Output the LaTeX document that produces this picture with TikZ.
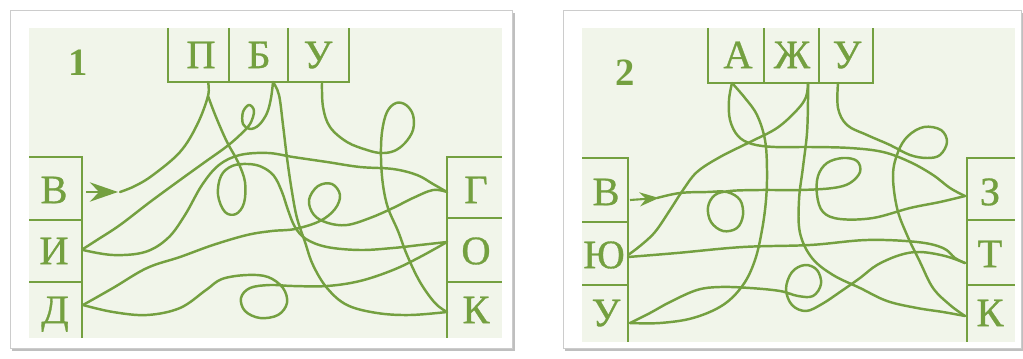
\documentclass[tikz,border=0pt]{standalone}
\usepackage{fontspec}
\setmainfont{Liberation Serif}
\newfontfamily\boxfont[FakeBold=0.8]{Liberation Serif}
\usepackage{xcolor}
\usetikzlibrary{arrows.meta}

\definecolor{mazegreen}{RGB}{116,160,64}
\definecolor{paper}{RGB}{241,245,234}

\begin{document}
\begin{tikzpicture}[
  x=0.02cm, y=-0.02cm,
  >=Stealth,
  frame/.style={fill=white, draw=gray!40, line width=0.5pt},
  shadow/.style={fill=gray!50},
  field/.style={fill=paper},
  boxline/.style={draw=mazegreen, line width=1.4pt},
  letter/.style={text=mazegreen, font=\boxfont\fontsize{23}{26}\selectfont,
    inner sep=0pt, text height=15pt, text depth=0pt},
  number/.style={letter, font=\fontsize{22}{26}\selectfont\bfseries},
  maze/.style={draw=mazegreen, line width=1.4pt, line cap=round, line join=round},
  entry/.style={draw=mazegreen, line width=1.2pt},
]
\useasboundingbox (0,0) rectangle (1023,358);

% ========= Frames =========
\fill[shadow] (12,13) rectangle (515,351);
\filldraw[frame] (10,10) rectangle (512,348);
\fill[field] (29,28) rectangle (502,338);

\fill[shadow] (565,13) rectangle (1023,351);
\filldraw[frame] (563,10) rectangle (1021,348);
\fill[field] (582,28) rectangle (1015,342);

% ========= Panel 1: boxes =========
\draw[boxline] (168,28) -- (168,82) -- (349,82) -- (349,28);
\draw[boxline] (229,28) -- (229,82) (288,28) -- (288,82);
\draw[boxline] (29,157) -- (82,157) -- (82,338);
\draw[boxline] (29,220) -- (82,220) (29,282) -- (82,282);
\draw[boxline] (502,157) -- (447,157) -- (447,338);
\draw[boxline] (447,218) -- (502,218) (447,282) -- (502,282);

\node[number] at (78,62) (num1) {1};
\node[letter] at (201,55) (p1P) {П};
\node[letter] at (259,55) (p1B) {Б};
\node[letter] at (318,55) (p1U) {У};
\node[letter] at (54,190) (p1V) {В};
\node[letter] at (54,251) (p1I) {И};
\node[letter] at (55,310) (p1D) {Д};
\node[letter] at (476,190) (p1G) {Г};
\node[letter] at (476,251) (p1O) {О};
\node[letter] at (476,310) (p1K) {К};

% ========= Panel 1: lines =========
\draw[entry, -{Stealth[length=16pt,width=11pt]}] (86,192) -- (118,192);
% П -> В
\draw[maze] plot[smooth, tension=0.6] coordinates {(208,82) (208,96) (197,125)
  (180,152) (153,175) (135,186) (120,192)};
% П -> О
\draw[maze] plot[smooth, tension=0.6] coordinates {(208,96) (216,117) (227,142)
  (238,162) (245,182) (244,203) (236,214) (225,212) (218,195) (221,176) (232,166)
  (248,164) (262,167) (274,176) (282,192) (288,210) (295,227) (306,239) (327,247)
  (360,250) (393,248) (420,245) (447,242)};
% Б -> И
\draw[maze] plot[smooth, tension=0.6] coordinates {(273,82) (271,98) (267,113)
  (259,125) (250,129) (243,124) (243,112) (249,105) (254,111) (250,124) (240,135)
  (226,147) (205,162) (180,180) (150,202) (120,225) (97,240) (83,249)};
% И -> Г
\draw[maze] plot[smooth, tension=0.6] coordinates {(83,250) (113,255) (145,252)
  (168,238) (185,215) (202,185) (219,165) (240,155) (268,153) (293,157) (327,162)
  (360,167) (393,169) (417,175) (433,184) (447,192)};
% Д -> Г
\draw[maze] plot[smooth, tension=0.6] coordinates {(83,305) (113,288) (147,268)
  (180,257) (213,245) (247,235) (272,231) (295,229) (320,221) (335,209) (340,195)
  (332,184) (318,186) (309,200) (314,215) (328,223) (347,225) (370,218) (393,208)
  (413,198) (433,190) (447,192)};
% Д -> О
\draw[maze] plot[smooth, tension=0.6] coordinates {(83,305) (113,312) (147,315)
  (180,308) (206,290) (222,279) (247,275) (268,277) (283,288) (287,303) (278,315)
  (260,318) (245,311) (241,298) (250,288) (270,285) (293,286) (327,286) (360,281)
  (393,270) (420,257) (447,242)};
% Б -> К
\draw[maze] plot[smooth, tension=0.6] coordinates {(273,82) (279,95) (283,125)
  (287,158) (292,192) (297,218) (305,242) (313,265) (327,288) (347,305) (377,313)
  (410,315) (447,312)};
% У -> К
\draw[maze] plot[smooth, tension=0.6] coordinates {(322,82) (323,107) (330,127)
  (347,142) (367,150) (381,153) (394,151) (405,143) (413,130) (413,115) (406,105)
  (396,103) (387,112) (382,132) (381,158) (383,185) (388,208) (398,231) (407,255)
  (420,282) (435,303) (447,312)};

% ========= Panel 2: boxes =========
\draw[boxline] (708,28) -- (708,83) -- (873,83) -- (873,28);
\draw[boxline] (764,28) -- (764,83) (819,28) -- (819,83);
\draw[boxline] (582,158) -- (628,158) -- (628,342);
\draw[boxline] (582,222) -- (628,222) (582,285) -- (628,285);
\draw[boxline] (1015,158) -- (967,158) -- (967,342);
\draw[boxline] (967,220) -- (1015,220) (967,285) -- (1015,285);

\node[number] at (625,72) (num2) {2};
\node[letter] at (738,55) (p2A) {А};
\node[letter] at (792,55) (p2Zh) {Ж};
\node[letter] at (847,55) (p2U) {У};
\node[letter] at (606,192) (p2V) {В};
\node[letter] at (604,255) (p2Yu) {Ю};
\node[letter] at (606,313) (p2Uy) {У};
\node[letter] at (990,192) (p2Z) {З};
\node[letter] at (990,254) (p2T) {Т};
\node[letter] at (990,313) (p2K) {К};

% ========= Panel 2: lines =========
\draw[entry, -{Stealth[length=11pt,width=8pt]}] (630,200) -- (659,198);
% В -> З
\draw[maze] plot[smooth, tension=0.6] coordinates {(657,198) (680,193) (707,192)
  (727,192) (740,200) (743,215) (737,228) (723,231) (711,222) (708,207) (715,195)
  (730,191) (760,190) (800,190) (833,188) (850,183) (860,172) (857,161) (843,158)
  (827,163) (818,176) (817,195) (823,212) (840,219) (873,218) (910,208) (940,202)
  (965,196)};
% Ж -> Ю
\draw[maze] plot[smooth, tension=0.6] coordinates {(808,83) (806,97) (797,110)
  (777,128) (750,142) (720,157) (697,172) (683,190) (670,210) (655,232) (640,246)
  (628,255)};
% Ж -> К
\draw[maze] plot[smooth, tension=0.6] coordinates {(808,83) (808,100) (807,133)
  (803,167) (799,200) (800,233) (812,258) (833,275) (860,288) (887,301) (917,308)
  (943,312) (965,316)};
% А -> З
\draw[maze] plot[smooth, tension=0.6] coordinates {(732,83) (729,100) (730,120)
  (738,136) (752,144) (775,147) (810,147) (850,148) (883,152) (910,162) (933,175)
  (950,188) (965,196)};
% А -> У
\draw[maze] plot[smooth, tension=0.6] coordinates {(732,83) (745,98) (757,115)
  (765,140) (767,170) (766,200) (762,230) (755,260) (743,285) (723,305) (693,318)
  (660,323) (630,323)};
% Ю -> Т
\draw[maze] plot[smooth, tension=0.6] coordinates {(628,257) (677,253) (743,247)
  (810,245) (867,240) (917,242) (943,248) (955,258) (965,263)};
% Т -> У
\draw[maze] plot[smooth, tension=0.6] coordinates {(965,263) (945,256) (920,252)
  (900,255) (877,265) (860,278) (840,292) (822,304) (806,311) (792,305) (786,289)
  (792,272) (805,265) (817,270) (821,284) (813,296) (798,296) (780,291) (750,288)
  (720,287) (697,290) (670,302) (650,313) (630,323)};
% У -> К
\draw[maze] plot[smooth, tension=0.6] coordinates {(838,83) (838,108) (847,125)
  (867,135) (890,145) (910,155) (927,158) (940,155) (947,142) (941,130) (924,127)
  (908,136) (898,152) (893,175) (897,208) (907,235) (920,262) (933,288) (950,305)
  (965,316)};

\end{tikzpicture}
\end{document}
